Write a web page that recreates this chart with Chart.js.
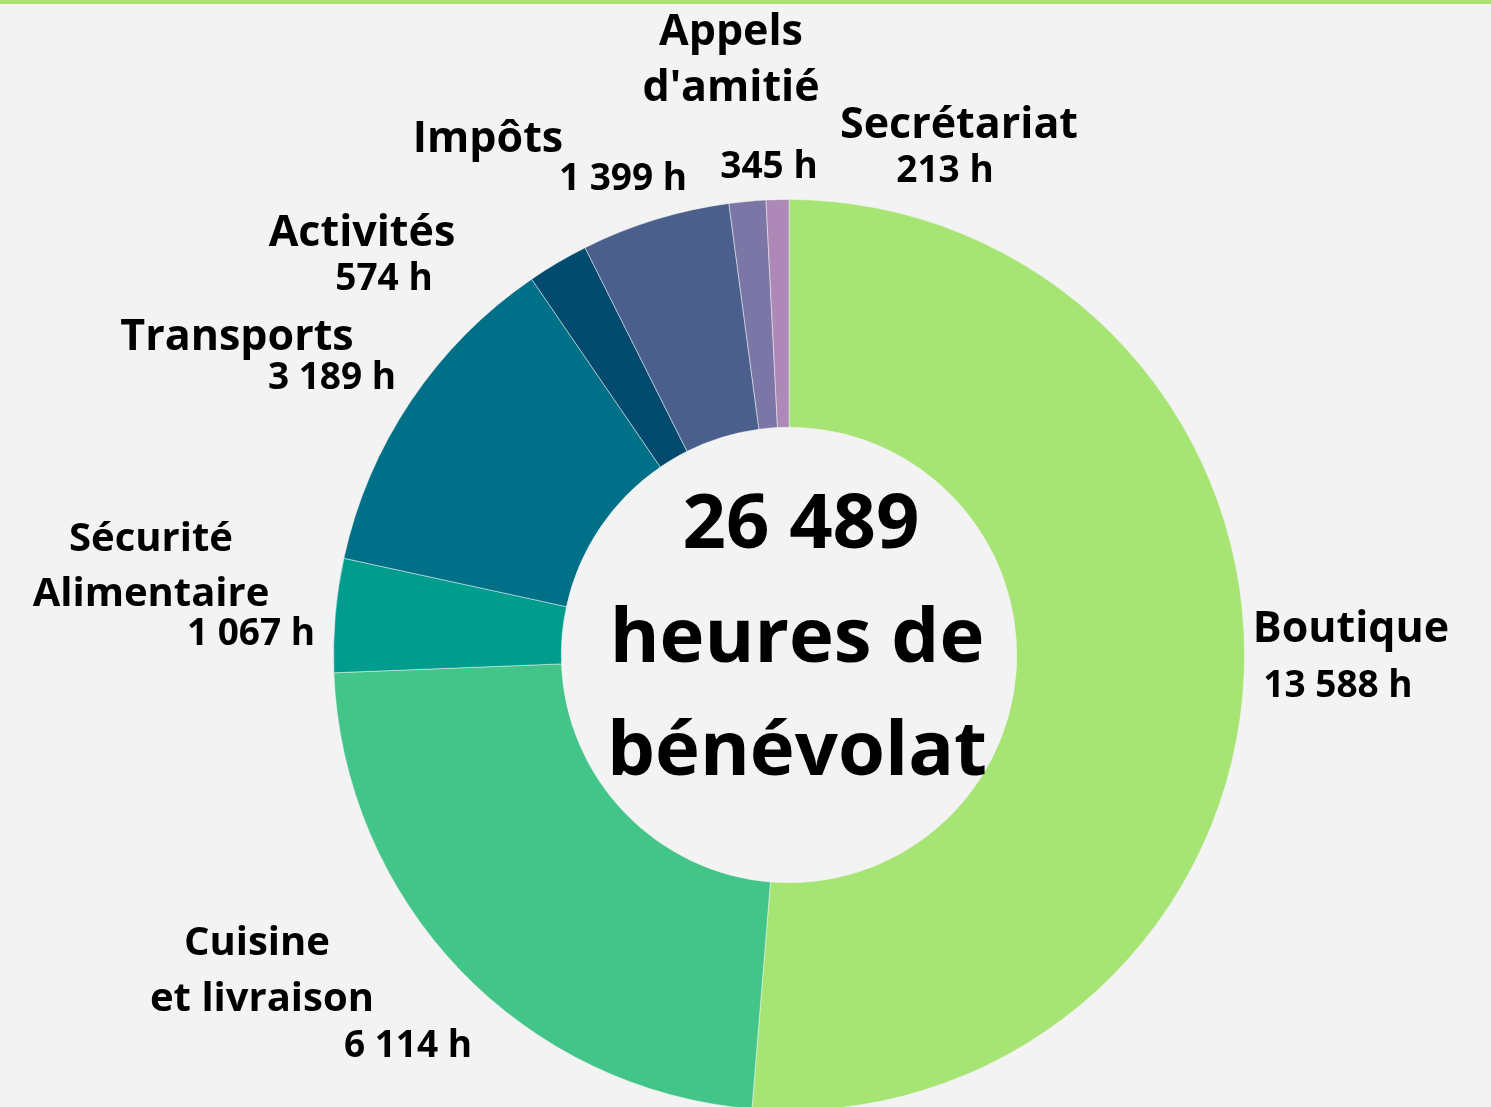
<!DOCTYPE html>
<html lang="fr">
<head>
<meta charset="utf-8">
<title>Heures de bénévolat</title>
<script src="https://cdn.jsdelivr.net/npm/chart.js@4/dist/chart.umd.min.js"></script>
<style>
  html, body { margin: 0; padding: 0; background: #f3f3f3; overflow: hidden; }
  #topline { position: absolute; top: 0; left: 0; width: 1491px; height: 4px; background: #a8e474; z-index: 2; }
  #wrap { position: absolute; top: 0; left: 0; }
</style>
</head>
<body>
<div id="topline"></div>
<div id="wrap"><canvas id="myChart" width="1491" height="1120"></canvas></div>
<script>
// categories (one entry per line of the label)
var categories = [
  ['Boutique'],
  ['Cuisine', 'et livraison'],
  ['Sécurité', 'Alimentaire'],
  ['Transports'],
  ['Activités'],
  ['Impôts'],
  ['Appels', "d'amitié"],
  ['Secrétariat']
];
// hours per category
var hours = [13588, 6114, 1067, 3189, 574, 1399, 345, 213];

var colors = ['#a6e474', '#43c58a', '#009d8f', '#006f88', '#024b6e', '#4a5f8b', '#7c76a7', '#ae89b8'];

// where each label sits: x,y of name lines and of the value (centered text, baselines)
var labelLayout = [
  { size: 43, names: [[1351, 642]], value: [1338, 697] },
  { size: 40, names: [[257, 955], [262, 1011]], value: [408, 1057] },
  { size: 40, names: [[151, 551], [151, 606]], value: [251, 645] },
  { size: 43, names: [[237, 350]], value: [332, 389] },
  { size: 43, names: [[362, 246]], value: [384, 290] },
  { size: 43, names: [[488, 152]], value: [623, 190] },
  { size: 43, names: [[731, 45], [731, 101]], value: [769, 178] },
  { size: 43, names: [[959, 138]], value: [945, 182] }
];

function fmt(n) {
  return String(n).replace(/\B(?=(\d{3})+(?!\d))/g, ' ') + ' h';
}

var total = hours.reduce(function (a, b) { return a + b; }, 0);

// draws the outside labels and the big text in the hole
var labelsPlugin = {
  id: 'labelsPlugin',
  afterDraw: function (chart) {
    var c = chart.ctx;
    c.save();
    c.fillStyle = '#000';
    c.textAlign = 'center';
    c.textBaseline = 'alphabetic';
    categories.forEach(function (lines, i) {
      var pos = labelLayout[i];
      c.font = 'bold ' + pos.size + 'px "Open Sans"';
      lines.forEach(function (txt, j) {
        c.fillText(txt, pos.names[j][0], pos.names[j][1]);
      });
      c.font = 'bold 37px "Open Sans"';
      c.fillText(fmt(hours[i]), pos.value[0], pos.value[1]);
    });

    // center text
    var arc = chart.getDatasetMeta(0).data[0];
    var cx = arc.x + 8, cy = arc.y;
    c.font = 'bold 76px "Open Sans"';
    c.fillText(fmt(total).replace(' h', ''), cx + 4, cy - 107);
    c.fillText('heures de', cx, cy + 7);
    c.fillText('bénévolat', cx, cy + 120);
    c.restore();
  }
};

var ctx = document.getElementById('myChart').getContext('2d');

var myChart = new Chart(ctx, {
  type: 'doughnut',
  data: {
    labels: categories,
    datasets: [{
      data: hours,
      backgroundColor: colors,
      borderColor: 'rgba(243,243,243,0.5)',
      borderWidth: 1
    }]
  },
  options: {
    responsive: false,
    animation: false,
    devicePixelRatio: 1,
    cutout: '50%',
    layout: {
      padding: { top: 199, bottom: 9, left: 333, right: 246 }
    },
    plugins: {
      legend: { display: false },
      tooltip: { enabled: false }
    }
  },
  plugins: [labelsPlugin]
});
</script>
</body>
</html>
